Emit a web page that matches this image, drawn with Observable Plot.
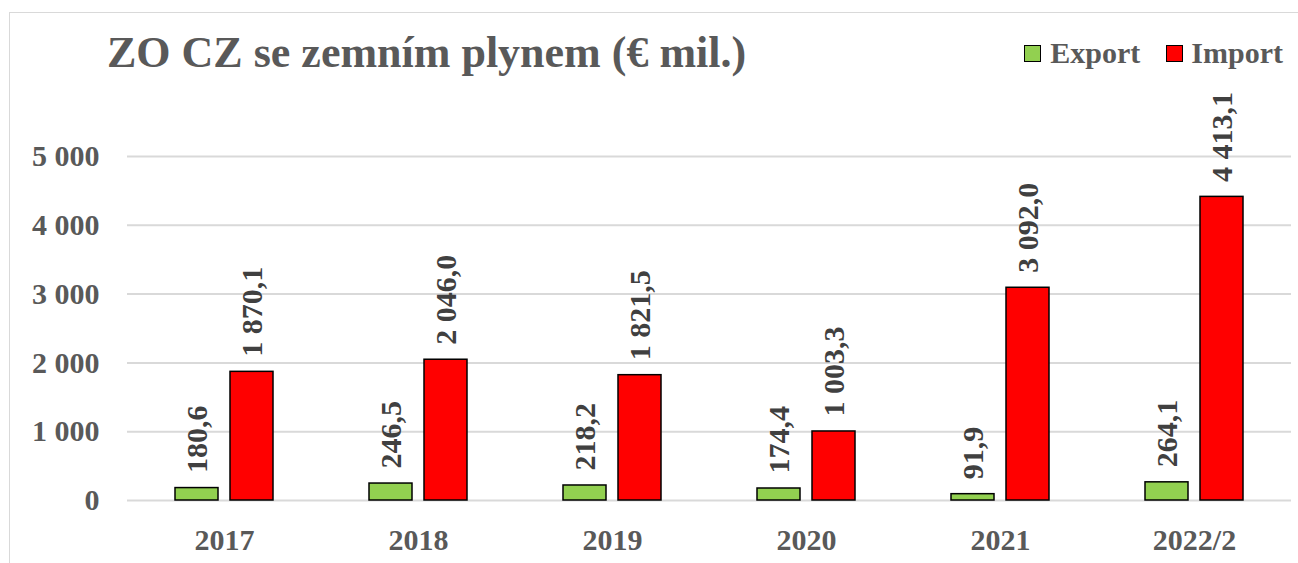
<!DOCTYPE html>
<html>
<head>
<meta charset="utf-8">
<script src="https://cdn.jsdelivr.net/npm/d3@7"></script>
<script src="https://cdn.jsdelivr.net/npm/@observablehq/plot@0.6"></script>
</head>
<body style="margin:0;padding:0;background:#fff;font-family:'Liberation Serif',serif;font-weight:bold;color:#595959">
<div style="position:absolute;left:9px;top:12px;width:1400px;height:700px;border:1.5px solid #d9d9d9;box-sizing:border-box"></div>
<div style="display:flex;align-items:flex-start;height:80px;width:1298px;white-space:nowrap">
  <div style="margin-left:107px;margin-top:31px;font-size:44px;line-height:44px">ZO CZ se zemním plynem (€ mil.)</div>
  <div style="flex:1"></div>
  <div style="margin-top:45px;width:17px;height:17px;border:1.5px solid #000;box-sizing:border-box;background:#92d050"></div>
  <div style="margin-left:9px;margin-top:38px;font-size:30px;line-height:30px">Export</div>
  <div style="margin-left:26px;margin-top:45px;width:17px;height:17px;border:1.5px solid #000;box-sizing:border-box;background:#ff0000"></div>
  <div style="margin-left:8px;margin-right:15px;margin-top:38px;font-size:30px;line-height:30px">Import</div>
</div>
<div id="chart"></div>
<script>
const years = ["2017", "2018", "2019", "2020", "2021", "2022/2"];
const series = ["Export", "Import"];
const exportValues = [180.6, 246.5, 218.2, 174.4, 91.9, 264.1];
const importValues = [1870.1, 2046.0, 1821.5, 1003.3, 3092.0, 4413.1];
const yTicks = [0, 1000, 2000, 3000, 4000, 5000];
const colors = ["#92d050", "#ff0000"];

const data = [];
years.forEach((y, i) => {
  data.push({year: y, series: "Export", value: exportValues[i]});
  data.push({year: y, series: "Import", value: importValues[i]});
});

const loc = d3.formatLocale({decimal: ",", thousands: "\u00a0", grouping: [3], currency: ["", ""]});
const fmtVal = loc.format(",.1f");
const fmtTick = loc.format(",.0f");

const chart = Plot.plot({
  width: 1298,
  height: 483,
  marginLeft: 126,
  marginRight: 6,
  marginTop: 76,
  marginBottom: 63,
  style: {fontFamily: "Liberation Serif", fontSize: "30px", background: "transparent", overflow: "visible"},
  fx: {domain: years, padding: 0, label: null},
  x: {domain: series, paddingInner: 0.214, paddingOuter: 0.84, axis: null},
  y: {domain: [0, 5000], label: null},
  color: {domain: series, range: colors},
  marks: [
    Plot.gridY(yTicks, {stroke: "#d9d9d9", strokeOpacity: 1, strokeWidth: 2}),
    Plot.axisY(yTicks, {tickSize: 0, tickPadding: 28, tickFormat: fmtTick, fontWeight: "bold", fill: "#595959", label: null}),
    Plot.axisFx({anchor: "bottom", tickSize: 0, tickPadding: 28, fontWeight: "bold", fill: "#595959", label: null}),
    Plot.barY(data, {fx: "year", x: "series", y: "value", fill: "series", stroke: "#000", strokeWidth: 1.5}),
    Plot.text(data, {fx: "year", x: "series", y: "value", text: d => fmtVal(d.value), rotate: -90, textAnchor: "start", lineAnchor: "middle", dy: -15, fontWeight: "bold", fill: "#404040"})
  ]
});
document.getElementById("chart").appendChild(chart);
</script>
</body>
</html>
